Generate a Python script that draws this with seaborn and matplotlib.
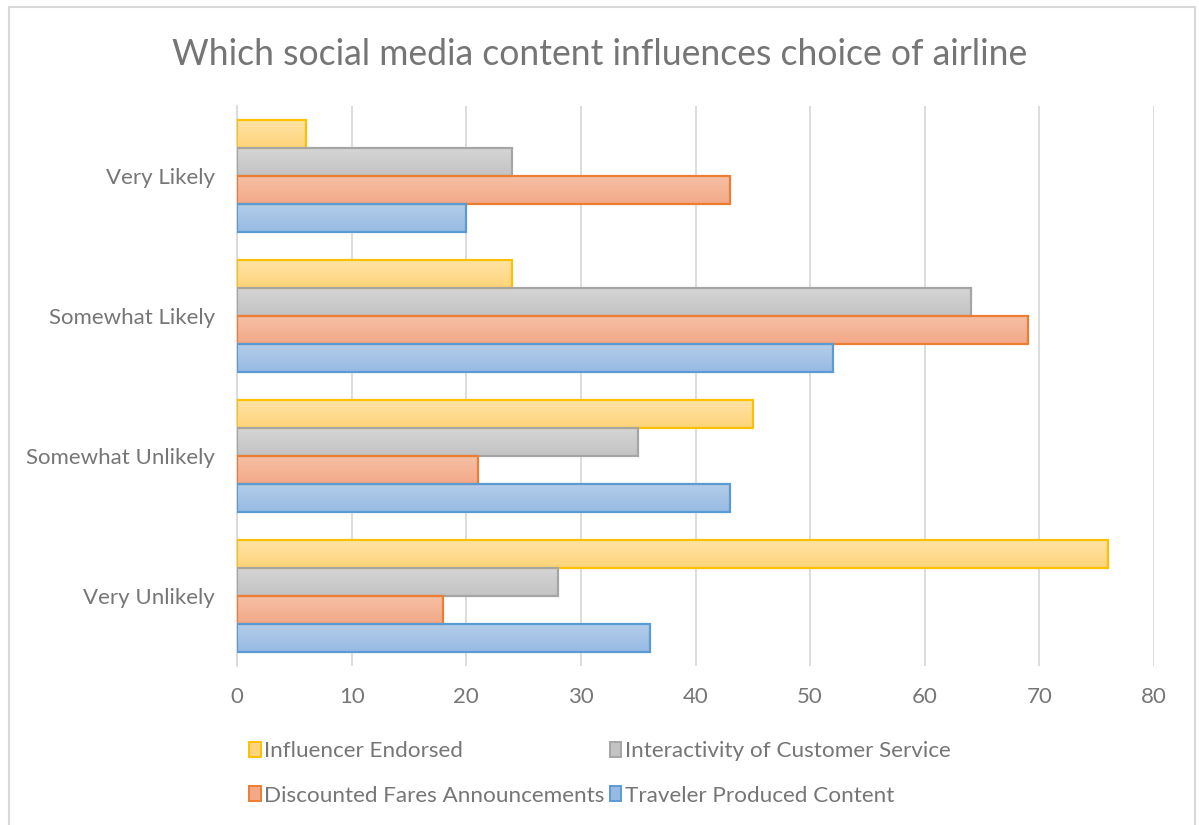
import numpy as np
import pandas as pd
import matplotlib
matplotlib.use("Agg")
import matplotlib.pyplot as plt
import matplotlib.colors as mcolors
from matplotlib.patches import Rectangle, Patch
import seaborn as sns

categories = ["Very Likely", "Somewhat Likely", "Somewhat Unlikely", "Very Unlikely"]
series = ["Influencer Endorsed", "Interactivity of Customer Service",
          "Discounted Fares Announcements", "Traveler Produced Content"]
influencer = [6, 24, 45, 76]
interactivity = [24, 64, 35, 28]
discounted = [43, 69, 21, 18]
traveler = [20, 52, 43, 36]
x_ticks = [0, 10, 20, 30, 40, 50, 60, 70, 80]

edge_colors = ["#FFC000", "#A5A5A5", "#ED7D31", "#5B9BD5"]
top_colors = ["#FFE3A6", "#D6D6D6", "#F6C0A6", "#B5CEEA"]
bottom_colors = ["#FED47A", "#C3C3C3", "#F3A988", "#97BAE3"]

rows = []
for name, vals in zip(series, [influencer, interactivity, discounted, traveler]):
    for cat, v in zip(categories, vals):
        rows.append({"category": cat, "series": name, "value": v})
df = pd.DataFrame(rows)

sns.set_theme(style="white")
plt.rcParams["font.family"] = ["Lato", "DejaVu Sans"]
text_gray = "#767676"

fig = plt.figure(figsize=(11.99, 8.25), dpi=100)
ax = fig.add_axes([0.1977, 0.1927, 0.7648, 0.6788])

sns.barplot(data=df, x="value", y="category", hue="series", orient="h",
            order=categories, hue_order=series, palette=bottom_colors,
            width=0.8, ax=ax, legend=False, errorbar=None, saturation=1)

# Vertical gradient fill for each bar, plus a coloured outline
for i, container in enumerate(ax.containers):
    cmap = mcolors.LinearSegmentedColormap.from_list(
        f"grad{i}", [top_colors[i], bottom_colors[i]])
    grad = np.linspace(0, 1, 64).reshape(-1, 1)
    for bar in container:
        x0, y0 = bar.get_x(), bar.get_y()
        w, h = bar.get_width(), bar.get_height()
        bar.set_facecolor("none")
        bar.set_edgecolor(edge_colors[i])
        bar.set_linewidth(1.6)
        bar.set_zorder(3)
        im = ax.imshow(grad, cmap=cmap, aspect="auto",
                       extent=(x0, x0 + w, y0 + h, y0), origin="upper",
                       zorder=2, interpolation="bilinear")
        im.set_clip_path(bar)

ax.set_xlim(0, 80)
ax.set_ylim(3.5, -0.5)
ax.set_xticks(x_ticks)
ax.set_xticklabels([str(t) for t in x_ticks])
ax.xaxis.grid(True, color="#D9D9D9", linewidth=1.3, zorder=0)
ax.yaxis.grid(False)
ax.set_axisbelow(True)
for side in ["top", "right", "bottom"]:
    ax.spines[side].set_visible(False)
ax.spines["left"].set_color("#D9D9D9")
ax.spines["left"].set_linewidth(1.3)
ax.tick_params(axis="both", length=0, labelsize=16, labelcolor=text_gray)
ax.tick_params(axis="x", pad=15)
ax.tick_params(axis="y", pad=16)
ax.set_xlabel("")
ax.set_ylabel("")

fig.text(0.5, 0.934, "Which social media content influences choice of airline",
         ha="center", va="center", fontsize=25.6, color="#757575")

# Legend: two columns, row-major ordering
handles = [Patch(facecolor=bottom_colors[i], edgecolor=edge_colors[i], linewidth=1.4)
           for i in range(4)]
order = [0, 2, 1, 3]
leg = fig.legend([handles[i] for i in order], [series[i] for i in order],
                 ncol=2, loc="upper left", bbox_to_anchor=(0.2005, 0.1127),
                 frameon=False, fontsize=16.2, handlelength=0.5, handleheight=0.65,
                 handletextpad=0.15, columnspacing=0.25, labelspacing=1.1,
                 borderaxespad=0)
for t in leg.get_texts():
    t.set_color(text_gray)

# Chart area border
fig.patches.append(Rectangle((9 / 1199, -0.05), (1195 - 9) / 1199, 1.05 - 7 / 825,
                             transform=fig.transFigure, fill=False,
                             edgecolor="#D9D9D9", linewidth=1.5))

fig.savefig("out.png", dpi=100)
